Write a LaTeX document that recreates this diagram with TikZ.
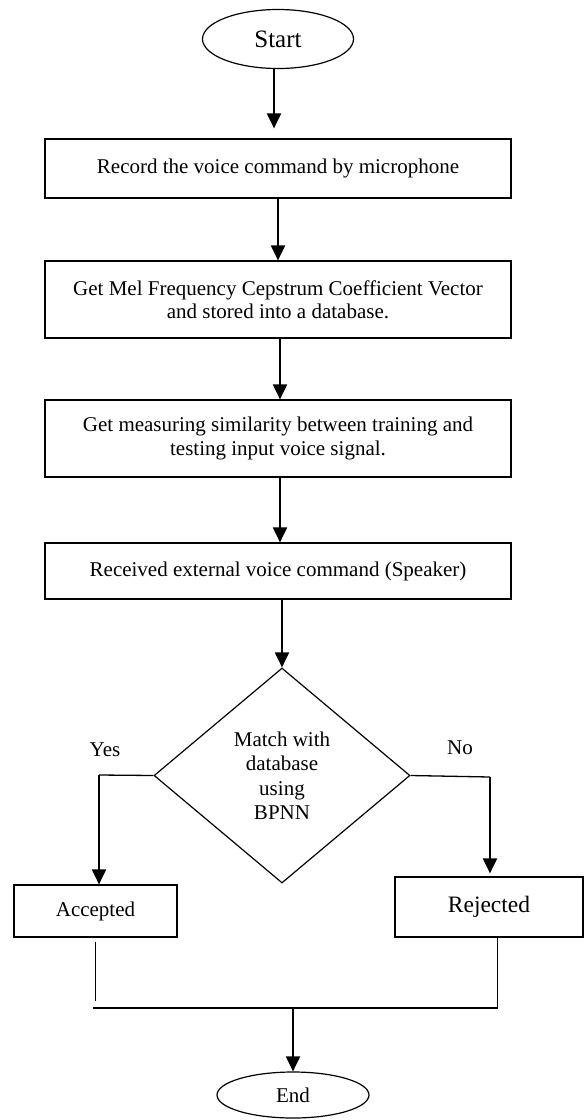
\documentclass[tikz,border=0pt]{standalone}
\usepackage{fontspec}
\setmainfont{Liberation Serif}
\usetikzlibrary{arrows.meta,shapes.geometric}

\begin{document}
\begin{tikzpicture}[x=1pt,y=-1pt,
  txt/.style={font=\fontsize{21}{23.5}\selectfont},
  procbox/.style={draw, line width=1.2pt, minimum width=466pt, align=center,
                  inner sep=0pt, txt},
  terminal/.style={ellipse, draw, line width=1.2pt, inner sep=0pt},
  flow/.style={line width=2pt, -{Triangle[width=14pt,length=15pt]}},
  link/.style={line width=1.3pt},
  thinlink/.style={line width=1pt}]
\useasboundingbox (0,0) rectangle (587,1120);

% main column
\node[terminal, minimum width=151pt, minimum height=59pt,
      font=\fontsize{25}{28}\selectfont] (start) at (278,39) {Start};
\node[procbox, minimum height=59pt] (rec) at (278,168.5)
  {Record the voice command by microphone};
\node[procbox, minimum height=77pt] (mfcc) at (278,299.5)
  {Get Mel Frequency Cepstrum Coefficient Vector\\and stored into a database.};
\node[procbox, minimum height=77pt] (sim) at (278,438.5)
  {Get measuring similarity between training and\\testing input voice signal.};
\node[procbox, minimum height=56pt] (recv) at (278,571)
  {Received external voice command (Speaker)};
\node[diamond, draw, line width=1.2pt, minimum width=256pt, minimum height=215pt,
      inner sep=0pt, align=center, font=\fontsize{21}{24.5}\selectfont]
  (match) at (282,775.5) {Match with\\database\\using\\BPNN};

% outcomes
\node[draw, line width=1.2pt, minimum width=163pt, minimum height=52pt, inner sep=0pt,
      txt] (acc) at (95.5,911) {Accepted};
\node[draw, line width=1.2pt, minimum width=188pt, minimum height=60pt, inner sep=0pt,
      font=\fontsize{23.5}{26}\selectfont] (rej) at (489,907) {Rejected};
\node[terminal, minimum width=152pt, minimum height=46pt, txt] (end) at (293,1095) {End};

% branch labels
\node[txt] (yes) at (105,750) {Yes};
\node[txt] (no) at (460,748) {No};

% junction points
\coordinate (yescorner) at (99,775);
\coordinate (nocorner) at (490,777);
\coordinate (joinL) at (93,1008);
\coordinate (joinR) at (498,1008);
\coordinate (join) at (293,1008);

% connectors
\draw[flow, shorten >=10pt] ([xshift=-4pt]start.south) -- ([xshift=-4pt]start.south |- rec.north);
\draw[flow] (rec) -- (mfcc);
\draw[flow] ([xshift=2pt]mfcc.south) -- ([xshift=2pt]sim.north);
\draw[flow] ([xshift=2pt]sim.south) -- ([xshift=2pt]recv.north);
\draw[flow] ([xshift=4pt]recv.south) -- (match.north);

\draw[link] (match.west) -- (yescorner);
\draw[flow] (yescorner) -- (yescorner |- acc.north);
\draw[link] (match.east) -- (nocorner);
\draw[flow, shorten >=3pt] (nocorner) -- (nocorner |- rej.north);

\draw[thinlink] ([yshift=-4pt]acc.south) -- ([yshift=7pt]acc.south |- joinL);
\draw[thinlink] ([xshift=8pt]rej.south) -- ([xshift=8pt]rej.south |- joinR);
\draw[link] (joinL) -- (joinR);
\draw[flow] (join) -- (end.north);
\end{tikzpicture}
\end{document}
